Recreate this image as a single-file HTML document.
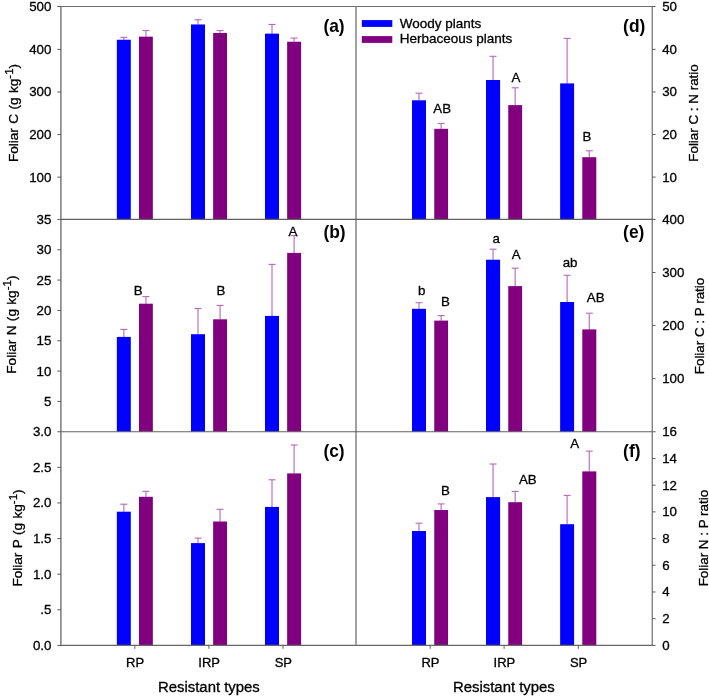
<!DOCTYPE html>
<html><head><meta charset="utf-8"><title>Foliar stoichiometry</title>
<style>
html,body{margin:0;padding:0;background:#fff;}
body{width:709px;height:696px;overflow:hidden;}
svg{display:block;}
text{font-family:"Liberation Sans",sans-serif;fill:#000;stroke:#000;stroke-width:0.3px;}
svg{will-change:transform;}
</style></head><body>
<svg width="709" height="696" viewBox="0 0 709 696">
<rect x="0" y="0" width="709" height="696" fill="#ffffff"/>
<line x1="123.83" y1="39.75" x2="123.83" y2="37.35" stroke="#c27dc2" stroke-width="1.3"/>
<line x1="120.33" y1="37.35" x2="127.33" y2="37.35" stroke="#b869b8" stroke-width="1.1"/>
<rect x="116.85" y="39.75" width="13.95" height="179.65" fill="#0000ff"/>
<line x1="145.93" y1="36.65" x2="145.93" y2="30.55" stroke="#c27dc2" stroke-width="1.3"/>
<line x1="142.43" y1="30.55" x2="149.43" y2="30.55" stroke="#b869b8" stroke-width="1.1"/>
<rect x="139.00" y="36.65" width="13.85" height="182.75" fill="#800080"/>
<line x1="198.00" y1="24.45" x2="198.00" y2="19.75" stroke="#c27dc2" stroke-width="1.3"/>
<line x1="194.50" y1="19.75" x2="201.50" y2="19.75" stroke="#b869b8" stroke-width="1.1"/>
<rect x="191.00" y="24.45" width="14.00" height="194.95" fill="#0000ff"/>
<line x1="220.07" y1="32.95" x2="220.07" y2="30.55" stroke="#c27dc2" stroke-width="1.3"/>
<line x1="216.57" y1="30.55" x2="223.57" y2="30.55" stroke="#b869b8" stroke-width="1.1"/>
<rect x="213.15" y="32.95" width="13.85" height="186.45" fill="#800080"/>
<line x1="272.00" y1="33.65" x2="272.00" y2="24.45" stroke="#c27dc2" stroke-width="1.3"/>
<line x1="268.50" y1="24.45" x2="275.50" y2="24.45" stroke="#b869b8" stroke-width="1.1"/>
<rect x="265.00" y="33.65" width="14.00" height="185.75" fill="#0000ff"/>
<line x1="294.12" y1="41.75" x2="294.12" y2="38.05" stroke="#c27dc2" stroke-width="1.3"/>
<line x1="290.62" y1="38.05" x2="297.62" y2="38.05" stroke="#b869b8" stroke-width="1.1"/>
<rect x="287.15" y="41.75" width="13.95" height="177.65" fill="#800080"/>
<line x1="123.83" y1="336.90" x2="123.83" y2="329.40" stroke="#c27dc2" stroke-width="1.3"/>
<line x1="120.33" y1="329.40" x2="127.33" y2="329.40" stroke="#b869b8" stroke-width="1.1"/>
<rect x="116.85" y="336.90" width="13.95" height="94.85" fill="#0000ff"/>
<line x1="145.93" y1="303.70" x2="145.93" y2="296.60" stroke="#c27dc2" stroke-width="1.3"/>
<line x1="142.43" y1="296.60" x2="149.43" y2="296.60" stroke="#b869b8" stroke-width="1.1"/>
<rect x="139.00" y="303.70" width="13.85" height="128.05" fill="#800080"/>
<line x1="198.00" y1="334.20" x2="198.00" y2="308.50" stroke="#c27dc2" stroke-width="1.3"/>
<line x1="194.50" y1="308.50" x2="201.50" y2="308.50" stroke="#b869b8" stroke-width="1.1"/>
<rect x="191.00" y="334.20" width="14.00" height="97.55" fill="#0000ff"/>
<line x1="220.07" y1="319.30" x2="220.07" y2="305.40" stroke="#c27dc2" stroke-width="1.3"/>
<line x1="216.57" y1="305.40" x2="223.57" y2="305.40" stroke="#b869b8" stroke-width="1.1"/>
<rect x="213.15" y="319.30" width="13.85" height="112.45" fill="#800080"/>
<line x1="272.00" y1="315.90" x2="272.00" y2="264.40" stroke="#c27dc2" stroke-width="1.3"/>
<line x1="268.50" y1="264.40" x2="275.50" y2="264.40" stroke="#b869b8" stroke-width="1.1"/>
<rect x="265.00" y="315.90" width="14.00" height="115.85" fill="#0000ff"/>
<line x1="294.12" y1="252.90" x2="294.12" y2="235.60" stroke="#c27dc2" stroke-width="1.3"/>
<line x1="290.62" y1="235.60" x2="297.62" y2="235.60" stroke="#b869b8" stroke-width="1.1"/>
<rect x="287.15" y="252.90" width="13.95" height="178.85" fill="#800080"/>
<line x1="123.83" y1="511.70" x2="123.83" y2="504.20" stroke="#c27dc2" stroke-width="1.3"/>
<line x1="120.33" y1="504.20" x2="127.33" y2="504.20" stroke="#b869b8" stroke-width="1.1"/>
<rect x="116.85" y="511.70" width="13.95" height="133.70" fill="#0000ff"/>
<line x1="145.93" y1="496.80" x2="145.93" y2="491.30" stroke="#c27dc2" stroke-width="1.3"/>
<line x1="142.43" y1="491.30" x2="149.43" y2="491.30" stroke="#b869b8" stroke-width="1.1"/>
<rect x="139.00" y="496.80" width="13.85" height="148.60" fill="#800080"/>
<line x1="198.00" y1="543.10" x2="198.00" y2="538.10" stroke="#c27dc2" stroke-width="1.3"/>
<line x1="194.50" y1="538.10" x2="201.50" y2="538.10" stroke="#b869b8" stroke-width="1.1"/>
<rect x="191.00" y="543.10" width="14.00" height="102.30" fill="#0000ff"/>
<line x1="220.07" y1="521.50" x2="220.07" y2="509.30" stroke="#c27dc2" stroke-width="1.3"/>
<line x1="216.57" y1="509.30" x2="223.57" y2="509.30" stroke="#b869b8" stroke-width="1.1"/>
<rect x="213.15" y="521.50" width="13.85" height="123.90" fill="#800080"/>
<line x1="272.00" y1="506.90" x2="272.00" y2="479.80" stroke="#c27dc2" stroke-width="1.3"/>
<line x1="268.50" y1="479.80" x2="275.50" y2="479.80" stroke="#b869b8" stroke-width="1.1"/>
<rect x="265.00" y="506.90" width="14.00" height="138.50" fill="#0000ff"/>
<line x1="294.12" y1="473.40" x2="294.12" y2="445.00" stroke="#c27dc2" stroke-width="1.3"/>
<line x1="290.62" y1="445.00" x2="297.62" y2="445.00" stroke="#b869b8" stroke-width="1.1"/>
<rect x="287.15" y="473.40" width="13.95" height="172.00" fill="#800080"/>
<line x1="419.00" y1="100.30" x2="419.00" y2="93.20" stroke="#c27dc2" stroke-width="1.3"/>
<line x1="415.50" y1="93.20" x2="422.50" y2="93.20" stroke="#b869b8" stroke-width="1.1"/>
<rect x="412.00" y="100.30" width="14.00" height="119.10" fill="#0000ff"/>
<line x1="441.15" y1="128.80" x2="441.15" y2="123.40" stroke="#c27dc2" stroke-width="1.3"/>
<line x1="437.65" y1="123.40" x2="444.65" y2="123.40" stroke="#b869b8" stroke-width="1.1"/>
<rect x="434.25" y="128.80" width="13.80" height="90.60" fill="#800080"/>
<line x1="493.05" y1="80.00" x2="493.05" y2="56.30" stroke="#c27dc2" stroke-width="1.3"/>
<line x1="489.55" y1="56.30" x2="496.55" y2="56.30" stroke="#b869b8" stroke-width="1.1"/>
<rect x="486.00" y="80.00" width="14.10" height="139.40" fill="#0000ff"/>
<line x1="515.17" y1="105.10" x2="515.17" y2="87.80" stroke="#c27dc2" stroke-width="1.3"/>
<line x1="511.67" y1="87.80" x2="518.67" y2="87.80" stroke="#b869b8" stroke-width="1.1"/>
<rect x="508.25" y="105.10" width="13.85" height="114.30" fill="#800080"/>
<line x1="567.12" y1="83.40" x2="567.12" y2="38.40" stroke="#c27dc2" stroke-width="1.3"/>
<line x1="563.62" y1="38.40" x2="570.62" y2="38.40" stroke="#b869b8" stroke-width="1.1"/>
<rect x="560.15" y="83.40" width="13.95" height="136.00" fill="#0000ff"/>
<line x1="589.30" y1="157.20" x2="589.30" y2="150.80" stroke="#c27dc2" stroke-width="1.3"/>
<line x1="585.80" y1="150.80" x2="592.80" y2="150.80" stroke="#b869b8" stroke-width="1.1"/>
<rect x="582.30" y="157.20" width="14.00" height="62.20" fill="#800080"/>
<line x1="419.00" y1="308.80" x2="419.00" y2="302.70" stroke="#c27dc2" stroke-width="1.3"/>
<line x1="415.50" y1="302.70" x2="422.50" y2="302.70" stroke="#b869b8" stroke-width="1.1"/>
<rect x="412.00" y="308.80" width="14.00" height="122.95" fill="#0000ff"/>
<line x1="441.15" y1="320.60" x2="441.15" y2="315.60" stroke="#c27dc2" stroke-width="1.3"/>
<line x1="437.65" y1="315.60" x2="444.65" y2="315.60" stroke="#b869b8" stroke-width="1.1"/>
<rect x="434.25" y="320.60" width="13.80" height="111.15" fill="#800080"/>
<line x1="493.05" y1="259.70" x2="493.05" y2="249.20" stroke="#c27dc2" stroke-width="1.3"/>
<line x1="489.55" y1="249.20" x2="496.55" y2="249.20" stroke="#b869b8" stroke-width="1.1"/>
<rect x="486.00" y="259.70" width="14.10" height="172.05" fill="#0000ff"/>
<line x1="515.17" y1="286.10" x2="515.17" y2="268.20" stroke="#c27dc2" stroke-width="1.3"/>
<line x1="511.67" y1="268.20" x2="518.67" y2="268.20" stroke="#b869b8" stroke-width="1.1"/>
<rect x="508.25" y="286.10" width="13.85" height="145.65" fill="#800080"/>
<line x1="567.12" y1="302.00" x2="567.12" y2="275.30" stroke="#c27dc2" stroke-width="1.3"/>
<line x1="563.62" y1="275.30" x2="570.62" y2="275.30" stroke="#b869b8" stroke-width="1.1"/>
<rect x="560.15" y="302.00" width="13.95" height="129.75" fill="#0000ff"/>
<line x1="589.30" y1="329.40" x2="589.30" y2="313.20" stroke="#c27dc2" stroke-width="1.3"/>
<line x1="585.80" y1="313.20" x2="592.80" y2="313.20" stroke="#b869b8" stroke-width="1.1"/>
<rect x="582.30" y="329.40" width="14.00" height="102.35" fill="#800080"/>
<line x1="419.00" y1="531.00" x2="419.00" y2="523.20" stroke="#c27dc2" stroke-width="1.3"/>
<line x1="415.50" y1="523.20" x2="422.50" y2="523.20" stroke="#b869b8" stroke-width="1.1"/>
<rect x="412.00" y="531.00" width="14.00" height="114.40" fill="#0000ff"/>
<line x1="441.15" y1="510.00" x2="441.15" y2="503.90" stroke="#c27dc2" stroke-width="1.3"/>
<line x1="437.65" y1="503.90" x2="444.65" y2="503.90" stroke="#b869b8" stroke-width="1.1"/>
<rect x="434.25" y="510.00" width="13.80" height="135.40" fill="#800080"/>
<line x1="493.05" y1="497.10" x2="493.05" y2="464.00" stroke="#c27dc2" stroke-width="1.3"/>
<line x1="489.55" y1="464.00" x2="496.55" y2="464.00" stroke="#b869b8" stroke-width="1.1"/>
<rect x="486.00" y="497.10" width="14.10" height="148.30" fill="#0000ff"/>
<line x1="515.17" y1="502.20" x2="515.17" y2="491.40" stroke="#c27dc2" stroke-width="1.3"/>
<line x1="511.67" y1="491.40" x2="518.67" y2="491.40" stroke="#b869b8" stroke-width="1.1"/>
<rect x="508.25" y="502.20" width="13.85" height="143.20" fill="#800080"/>
<line x1="567.12" y1="524.20" x2="567.12" y2="495.40" stroke="#c27dc2" stroke-width="1.3"/>
<line x1="563.62" y1="495.40" x2="570.62" y2="495.40" stroke="#b869b8" stroke-width="1.1"/>
<rect x="560.15" y="524.20" width="13.95" height="121.20" fill="#0000ff"/>
<line x1="589.30" y1="471.40" x2="589.30" y2="451.10" stroke="#c27dc2" stroke-width="1.3"/>
<line x1="585.80" y1="451.10" x2="592.80" y2="451.10" stroke="#b869b8" stroke-width="1.1"/>
<rect x="582.30" y="471.40" width="14.00" height="174.00" fill="#800080"/>
<line x1="60.90" y1="6.00" x2="60.90" y2="645.90" stroke="#6c6c6c" stroke-width="1.35"/>
<line x1="652.25" y1="6.00" x2="652.25" y2="645.90" stroke="#6c6c6c" stroke-width="1.2"/>
<line x1="60.90" y1="6.50" x2="652.25" y2="6.50" stroke="#6f6f6f" stroke-width="1"/>
<line x1="60.90" y1="645.40" x2="652.25" y2="645.40" stroke="#666" stroke-width="1.1"/>
<line x1="356.00" y1="6.50" x2="356.00" y2="645.40" stroke="#8a8a8a" stroke-width="1.6"/>
<line x1="60.90" y1="219.40" x2="652.25" y2="219.40" stroke="#606060" stroke-width="1.1"/>
<line x1="60.90" y1="431.75" x2="652.25" y2="431.75" stroke="#606060" stroke-width="1.1"/>
<line x1="57.30" y1="6.50" x2="60.90" y2="6.50" stroke="#5c5c5c" stroke-width="1"/>
<text x="51.40" y="10.95" font-size="13.3" text-anchor="end" font-weight="normal" >500</text>
<line x1="57.30" y1="49.38" x2="60.90" y2="49.38" stroke="#5c5c5c" stroke-width="1"/>
<text x="51.40" y="53.83" font-size="13.3" text-anchor="end" font-weight="normal" >400</text>
<line x1="57.30" y1="91.96" x2="60.90" y2="91.96" stroke="#5c5c5c" stroke-width="1"/>
<text x="51.40" y="96.41" font-size="13.3" text-anchor="end" font-weight="normal" >300</text>
<line x1="57.30" y1="134.54" x2="60.90" y2="134.54" stroke="#5c5c5c" stroke-width="1"/>
<text x="51.40" y="138.99" font-size="13.3" text-anchor="end" font-weight="normal" >200</text>
<line x1="57.30" y1="177.12" x2="60.90" y2="177.12" stroke="#5c5c5c" stroke-width="1"/>
<text x="51.40" y="181.57" font-size="13.3" text-anchor="end" font-weight="normal" >100</text>
<line x1="57.30" y1="219.40" x2="60.90" y2="219.40" stroke="#5c5c5c" stroke-width="1"/>
<text x="51.40" y="223.85" font-size="13.3" text-anchor="end" font-weight="normal" >35</text>
<line x1="57.30" y1="249.74" x2="60.90" y2="249.74" stroke="#5c5c5c" stroke-width="1"/>
<text x="51.40" y="254.19" font-size="13.3" text-anchor="end" font-weight="normal" >30</text>
<line x1="57.30" y1="280.07" x2="60.90" y2="280.07" stroke="#5c5c5c" stroke-width="1"/>
<text x="51.40" y="284.52" font-size="13.3" text-anchor="end" font-weight="normal" >25</text>
<line x1="57.30" y1="310.41" x2="60.90" y2="310.41" stroke="#5c5c5c" stroke-width="1"/>
<text x="51.40" y="314.86" font-size="13.3" text-anchor="end" font-weight="normal" >20</text>
<line x1="57.30" y1="340.74" x2="60.90" y2="340.74" stroke="#5c5c5c" stroke-width="1"/>
<text x="51.40" y="345.19" font-size="13.3" text-anchor="end" font-weight="normal" >15</text>
<line x1="57.30" y1="371.08" x2="60.90" y2="371.08" stroke="#5c5c5c" stroke-width="1"/>
<text x="51.40" y="375.53" font-size="13.3" text-anchor="end" font-weight="normal" >10</text>
<line x1="57.30" y1="401.41" x2="60.90" y2="401.41" stroke="#5c5c5c" stroke-width="1"/>
<text x="51.40" y="405.86" font-size="13.3" text-anchor="end" font-weight="normal" >5</text>
<line x1="57.30" y1="431.75" x2="60.90" y2="431.75" stroke="#5c5c5c" stroke-width="1"/>
<text x="51.40" y="436.20" font-size="13.3" text-anchor="end" font-weight="normal" >3.0</text>
<line x1="57.30" y1="467.36" x2="60.90" y2="467.36" stroke="#5c5c5c" stroke-width="1"/>
<text x="51.40" y="471.81" font-size="13.3" text-anchor="end" font-weight="normal" >2.5</text>
<line x1="57.30" y1="502.97" x2="60.90" y2="502.97" stroke="#5c5c5c" stroke-width="1"/>
<text x="51.40" y="507.42" font-size="13.3" text-anchor="end" font-weight="normal" >2.0</text>
<line x1="57.30" y1="538.58" x2="60.90" y2="538.58" stroke="#5c5c5c" stroke-width="1"/>
<text x="51.40" y="543.03" font-size="13.3" text-anchor="end" font-weight="normal" >1.5</text>
<line x1="57.30" y1="574.18" x2="60.90" y2="574.18" stroke="#5c5c5c" stroke-width="1"/>
<text x="51.40" y="578.63" font-size="13.3" text-anchor="end" font-weight="normal" >1.0</text>
<line x1="57.30" y1="609.79" x2="60.90" y2="609.79" stroke="#5c5c5c" stroke-width="1"/>
<text x="51.40" y="614.24" font-size="13.3" text-anchor="end" font-weight="normal" >.5</text>
<line x1="57.30" y1="645.40" x2="60.90" y2="645.40" stroke="#5c5c5c" stroke-width="1"/>
<text x="51.40" y="649.85" font-size="13.3" text-anchor="end" font-weight="normal" >0.0</text>
<line x1="652.25" y1="6.50" x2="655.55" y2="6.50" stroke="#5c5c5c" stroke-width="1"/>
<text x="662.20" y="10.95" font-size="13.3" text-anchor="start" font-weight="normal" >50</text>
<line x1="652.25" y1="49.38" x2="655.55" y2="49.38" stroke="#5c5c5c" stroke-width="1"/>
<text x="662.20" y="53.83" font-size="13.3" text-anchor="start" font-weight="normal" >40</text>
<line x1="652.25" y1="91.96" x2="655.55" y2="91.96" stroke="#5c5c5c" stroke-width="1"/>
<text x="662.20" y="96.41" font-size="13.3" text-anchor="start" font-weight="normal" >30</text>
<line x1="652.25" y1="134.54" x2="655.55" y2="134.54" stroke="#5c5c5c" stroke-width="1"/>
<text x="662.20" y="138.99" font-size="13.3" text-anchor="start" font-weight="normal" >20</text>
<line x1="652.25" y1="177.12" x2="655.55" y2="177.12" stroke="#5c5c5c" stroke-width="1"/>
<text x="662.20" y="181.57" font-size="13.3" text-anchor="start" font-weight="normal" >10</text>
<line x1="652.25" y1="219.40" x2="655.55" y2="219.40" stroke="#5c5c5c" stroke-width="1"/>
<text x="662.20" y="223.85" font-size="13.3" text-anchor="start" font-weight="normal" >400</text>
<line x1="652.25" y1="272.49" x2="655.55" y2="272.49" stroke="#5c5c5c" stroke-width="1"/>
<text x="662.20" y="276.94" font-size="13.3" text-anchor="start" font-weight="normal" >300</text>
<line x1="652.25" y1="325.57" x2="655.55" y2="325.57" stroke="#5c5c5c" stroke-width="1"/>
<text x="662.20" y="330.02" font-size="13.3" text-anchor="start" font-weight="normal" >200</text>
<line x1="652.25" y1="378.66" x2="655.55" y2="378.66" stroke="#5c5c5c" stroke-width="1"/>
<text x="662.20" y="383.11" font-size="13.3" text-anchor="start" font-weight="normal" >100</text>
<line x1="652.25" y1="431.75" x2="655.55" y2="431.75" stroke="#5c5c5c" stroke-width="1"/>
<text x="662.20" y="436.20" font-size="13.3" text-anchor="start" font-weight="normal" >16</text>
<line x1="652.25" y1="458.46" x2="655.55" y2="458.46" stroke="#5c5c5c" stroke-width="1"/>
<text x="662.20" y="462.91" font-size="13.3" text-anchor="start" font-weight="normal" >14</text>
<line x1="652.25" y1="485.16" x2="655.55" y2="485.16" stroke="#5c5c5c" stroke-width="1"/>
<text x="662.20" y="489.61" font-size="13.3" text-anchor="start" font-weight="normal" >12</text>
<line x1="652.25" y1="511.87" x2="655.55" y2="511.87" stroke="#5c5c5c" stroke-width="1"/>
<text x="662.20" y="516.32" font-size="13.3" text-anchor="start" font-weight="normal" >10</text>
<line x1="652.25" y1="538.58" x2="655.55" y2="538.58" stroke="#5c5c5c" stroke-width="1"/>
<text x="662.20" y="543.03" font-size="13.3" text-anchor="start" font-weight="normal" >8</text>
<line x1="652.25" y1="565.28" x2="655.55" y2="565.28" stroke="#5c5c5c" stroke-width="1"/>
<text x="662.20" y="569.73" font-size="13.3" text-anchor="start" font-weight="normal" >6</text>
<line x1="652.25" y1="591.99" x2="655.55" y2="591.99" stroke="#5c5c5c" stroke-width="1"/>
<text x="662.20" y="596.44" font-size="13.3" text-anchor="start" font-weight="normal" >4</text>
<line x1="652.25" y1="618.69" x2="655.55" y2="618.69" stroke="#5c5c5c" stroke-width="1"/>
<text x="662.20" y="623.14" font-size="13.3" text-anchor="start" font-weight="normal" >2</text>
<line x1="652.25" y1="645.40" x2="655.55" y2="645.40" stroke="#5c5c5c" stroke-width="1"/>
<text x="662.20" y="649.85" font-size="13.3" text-anchor="start" font-weight="normal" >0</text>
<line x1="134.80" y1="645.40" x2="134.80" y2="648.80" stroke="#5c5c5c" stroke-width="1"/>
<text x="135.10" y="667.20" font-size="13" text-anchor="middle" font-weight="normal" >RP</text>
<line x1="208.90" y1="645.40" x2="208.90" y2="648.80" stroke="#5c5c5c" stroke-width="1"/>
<text x="209.20" y="667.20" font-size="13" text-anchor="middle" font-weight="normal" >IRP</text>
<line x1="283.00" y1="645.40" x2="283.00" y2="648.80" stroke="#5c5c5c" stroke-width="1"/>
<text x="283.30" y="667.20" font-size="13" text-anchor="middle" font-weight="normal" >SP</text>
<line x1="430.20" y1="645.40" x2="430.20" y2="648.80" stroke="#5c5c5c" stroke-width="1"/>
<text x="430.50" y="667.20" font-size="13" text-anchor="middle" font-weight="normal" >RP</text>
<line x1="504.10" y1="645.40" x2="504.10" y2="648.80" stroke="#5c5c5c" stroke-width="1"/>
<text x="504.40" y="667.20" font-size="13" text-anchor="middle" font-weight="normal" >IRP</text>
<line x1="578.30" y1="645.40" x2="578.30" y2="648.80" stroke="#5c5c5c" stroke-width="1"/>
<text x="578.60" y="667.20" font-size="13" text-anchor="middle" font-weight="normal" >SP</text>
<text x="208.90" y="692.00" font-size="14.9" text-anchor="middle" font-weight="normal" >Resistant types</text>
<text x="503.90" y="692.00" font-size="14.9" text-anchor="middle" font-weight="normal" >Resistant types</text>
<text transform="translate(323.40,32.00) scale(1,1.04)" font-size="17.4" font-weight="bold" style="stroke-width:0">(a)</text>
<text transform="translate(323.40,238.40) scale(1,1.04)" font-size="17.4" font-weight="bold" style="stroke-width:0">(b)</text>
<text transform="translate(323.40,456.50) scale(1,1.04)" font-size="17.4" font-weight="bold" style="stroke-width:0">(c)</text>
<text transform="translate(623.10,32.00) scale(1,1.04)" font-size="17.4" font-weight="bold" style="stroke-width:0">(d)</text>
<text transform="translate(623.10,238.40) scale(1,1.04)" font-size="17.4" font-weight="bold" style="stroke-width:0">(e)</text>
<text transform="translate(623.10,456.50) scale(1,1.04)" font-size="17.4" font-weight="bold" style="stroke-width:0">(f)</text>
<rect x="361.80" y="20.10" width="30.50" height="6.80" fill="#0000ff"/>
<rect x="361.80" y="36.10" width="30.50" height="6.80" fill="#800080"/>
<text x="399.70" y="27.70" font-size="13.5" text-anchor="start" font-weight="normal" >Woody plants</text>
<text x="399.70" y="43.40" font-size="13.5" text-anchor="start" font-weight="normal" >Herbaceous plants</text>
<text x="138.20" y="294.70" font-size="13.3" text-anchor="middle" font-weight="normal" >B</text>
<text x="220.90" y="294.70" font-size="13.3" text-anchor="middle" font-weight="normal" >B</text>
<text x="292.90" y="235.60" font-size="13.3" text-anchor="middle" font-weight="normal" >A</text>
<text x="442.20" y="113.20" font-size="13.3" text-anchor="middle" font-weight="normal" >AB</text>
<text x="516.00" y="82.00" font-size="13.3" text-anchor="middle" font-weight="normal" >A</text>
<text x="587.00" y="141.10" font-size="13.3" text-anchor="middle" font-weight="normal" >B</text>
<text x="421.70" y="295.10" font-size="13.3" text-anchor="middle" font-weight="normal" >b</text>
<text x="445.50" y="306.10" font-size="13.3" text-anchor="middle" font-weight="normal" >B</text>
<text x="496.30" y="243.20" font-size="13.3" text-anchor="middle" font-weight="normal" >a</text>
<text x="516.30" y="259.10" font-size="13.3" text-anchor="middle" font-weight="normal" >A</text>
<text x="570.10" y="267.30" font-size="13.3" text-anchor="middle" font-weight="normal" >ab</text>
<text x="595.70" y="302.00" font-size="13.3" text-anchor="middle" font-weight="normal" >AB</text>
<text x="445.50" y="495.20" font-size="13.3" text-anchor="middle" font-weight="normal" >B</text>
<text x="527.80" y="484.00" font-size="13.3" text-anchor="middle" font-weight="normal" >AB</text>
<text x="574.70" y="448.40" font-size="13.3" text-anchor="middle" font-weight="normal" >A</text>
<text transform="translate(18.10,113.00) rotate(-90)" font-size="13.6" text-anchor="middle" word-spacing="0.6">Foliar C (g kg<tspan font-size="11.6" dy="-5">-1</tspan><tspan dy="5">)</tspan></text>
<text transform="translate(16.00,324.60) rotate(-90)" font-size="13.6" text-anchor="middle" word-spacing="0.6">Foliar N (g kg<tspan font-size="11.6" dy="-5">-1</tspan><tspan dy="5">)</tspan></text>
<text transform="translate(22.40,538.00) rotate(-90)" font-size="13.6" text-anchor="middle" word-spacing="0.6">Foliar P (g kg<tspan font-size="11.6" dy="-5">-1</tspan><tspan dy="5">)</tspan></text>
<text transform="translate(697.50,113.00) rotate(-90)" font-size="13.4" text-anchor="middle" >Foliar C : N ratio</text>
<text transform="translate(704.00,326.00) rotate(-90)" font-size="13.4" text-anchor="middle" >Foliar C : P ratio</text>
<text transform="translate(708.40,538.10) rotate(-90)" font-size="13.4" text-anchor="middle" >Foliar N : P ratio</text>
</svg>
</body></html>
